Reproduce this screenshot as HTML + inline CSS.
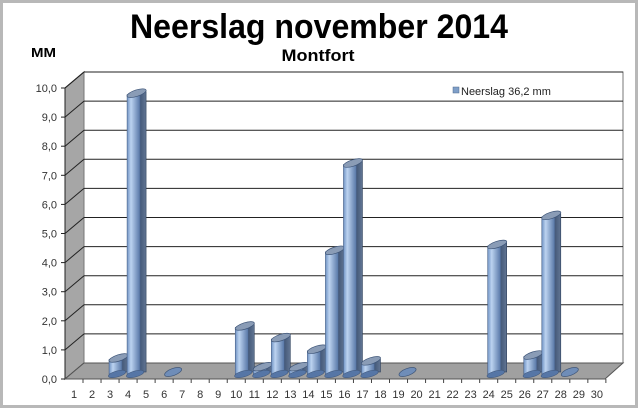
<!DOCTYPE html>
<html><head><meta charset="utf-8"><style>
html,body{margin:0;padding:0;background:#fff;}
svg{display:block;font-family:"Liberation Sans",Arial,sans-serif;}
</style></head><body>
<svg id="s" width="640" height="410" viewBox="0 0 640 410" xmlns="http://www.w3.org/2000/svg">
<defs>
<linearGradient id="fr" x1="0" x2="1" y1="0" y2="0">
<stop offset="0" stop-color="#7093c4"/><stop offset="0.3" stop-color="#bcd3f0"/><stop offset="1" stop-color="#5676a6"/>
</linearGradient>
<linearGradient id="sd" x1="0" x2="1" y1="0" y2="0">
<stop offset="0" stop-color="#3f5474"/><stop offset="1" stop-color="#627694"/>
</linearGradient>
</defs>
<rect x="0" y="0" width="640" height="410" fill="#fff"/>
<rect x="1.5" y="1.5" width="635" height="405" fill="none" stroke="#b8b8b8" stroke-width="3"/>
<text x="319" y="38" font-size="34" font-weight="bold" text-anchor="middle" textLength="378" lengthAdjust="spacingAndGlyphs">Neerslag november 2014</text>
<text x="318" y="61" font-size="17" font-weight="bold" text-anchor="middle" textLength="73" lengthAdjust="spacingAndGlyphs">Montfort</text>
<text x="31" y="57" font-size="13" font-weight="bold" textLength="25" lengthAdjust="spacingAndGlyphs">MM</text>
<polygon points="65,88 84,72 84,363 65,379" fill="#a6a6a6" stroke="#222" stroke-width="1"/>
<rect x="84" y="72" width="539" height="291" fill="#fff" stroke="#777" stroke-width="1"/>
<polygon points="65,379 84,363 623,363 605,379" fill="#a0a0a0" stroke="#555" stroke-width="1"/>
<g id="grid"></g>
<g id="bars"></g>
<g id="lab" font-size="11" fill="#333"></g>
<rect x="453" y="87" width="6" height="6" fill="#7f9fc8" stroke="#506a8f" stroke-width="0.5"/>
<text x="461" y="95" font-size="11" fill="#222">Neerslag 36,2 mm</text>
</svg>
<script>
(function(){
var NS="http://www.w3.org/2000/svg";
function el(p,t,a,txt){var e=document.createElementNS(NS,t);for(var k in a)e.setAttribute(k,a[k]);if(txt!=null)e.textContent=txt;p.appendChild(e);return e;}
var g=document.getElementById('grid'),b=document.getElementById('bars'),l=document.getElementById('lab');
for(var v=0;v<=10;v++){var yf=379-v*29.1, yb=yf-16;
 if(v>0){el(g,'line',{x1:84,y1:yb,x2:623,y2:yb,stroke:'#222','stroke-width':1});
 el(g,'line',{x1:65,y1:yf,x2:84,y2:yb,stroke:'#222','stroke-width':1});}
 el(g,'line',{x1:61,y1:yf,x2:65,y2:yf,stroke:'#222'});
 el(l,'text',{x:57,y:yf+4,'text-anchor':'end'},v.toFixed(1).replace('.',','));}
for(var d=1;d<=30;d++){var x=74+(d-1)*18.03;el(l,'text',{x:x,y:398,'text-anchor':'middle'},d);
 el(g,'line',{x1:x+9,y1:379,x2:x+9,y2:383,stroke:'#444'});}
var vals={3:0.5,4:9.6,6:0,10:1.6,11:0.2,12:1.2,13:0.2,14:0.8,15:4.2,16:7.2,17:0.4,19:0,24:4.4,26:0.6,27:5.4,28:0};
for(var k in vals){var val=vals[k],bx=74+(k-1)*18.03-1,base=374,ty=base-val*29.1;
 if(val==0){el(b,'ellipse',{cx:bx+10,cy:372,rx:9,ry:3.5,fill:'#6f8db8',stroke:'#3e5578','stroke-width':0.7,transform:'rotate(-20 '+(bx+10)+' 372)'});continue;}
 el(b,'rect',{x:bx+12,y:ty-3,width:7,height:base-ty+1,fill:'url(#sd)',stroke:'#2e405c','stroke-width':0.6});
 el(b,'rect',{x:bx,y:ty,width:13,height:base-ty,fill:'url(#fr)',stroke:'#4a6288','stroke-width':0.6});
 el(b,'ellipse',{cx:bx+8,cy:base,rx:9,ry:3,fill:'#5676a6',stroke:'#3e5578','stroke-width':0.5,transform:'rotate(-15 '+(bx+8)+' '+base+')'});
 el(b,'ellipse',{cx:bx+9.5,cy:ty-1.5,rx:10,ry:3.2,fill:'#8a9cb6',stroke:'#3e5578','stroke-width':0.7,transform:'rotate(-18 '+(bx+9.5)+' '+(ty-1.5)+')'});}
})();
</script>
</body></html>
